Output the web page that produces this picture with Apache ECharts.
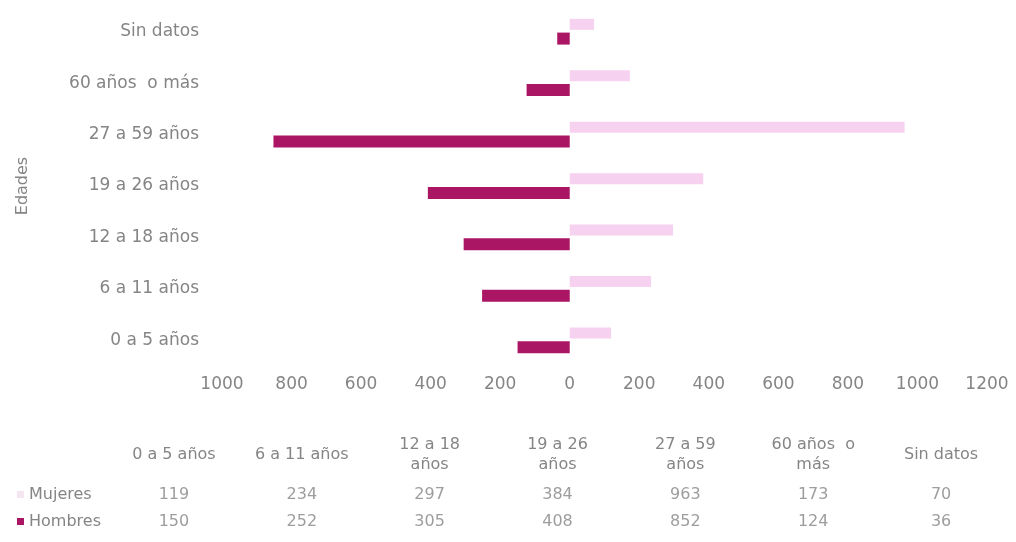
<!DOCTYPE html>
<html>
<head>
<meta charset="utf-8">
<script src="https://cdn.jsdelivr.net/npm/echarts@6/dist/echarts.min.js"></script>
<style>html,body{margin:0;padding:0;background:#fff}#c{width:1016px;height:542px}</style>
</head>
<body>
<div id="c"></div>
<script>
const categories = ['0 a 5 años', '6 a 11 años', '12 a 18 años', '19 a 26 años', '27 a 59 años', '60 años  o más', 'Sin datos'];
const tableHeaders = ['0 a 5 años', '6 a 11 años', '12 a 18\naños', '19 a 26\naños', '27 a 59\naños', '60 años  o\nmás', 'Sin datos'];
const mujeres = [119, 234, 297, 384, 963, 173, 70];
const hombres = [150, 252, 305, 408, 852, 124, 36];
const seriesNames = ['Hombres', 'Mujeres'];
const xTicks = { min: -1000, max: 1200, interval: 200 };

const colH = '#ab1664';
const colM = '#f6d2f0';
const txt = '#858585';
const FONT = 'DejaVu Sans';

const chart = echarts.init(document.getElementById('c'), null, { renderer: 'canvas' });
chart.setOption({
  backgroundColor: '#ffffff',
  textStyle: { fontFamily: FONT },
  animation: false,
  grid: [
    { left: 222, right: 29, top: 6, height: 360 },
    { left: 110, right: 11, top: 481, height: 54 }
  ],
  xAxis: [
    {
      gridIndex: 0, type: 'value', min: xTicks.min, max: xTicks.max, interval: xTicks.interval,
      axisLine: { show: false }, axisTick: { show: false }, splitLine: { show: false },
      axisLabel: { color: txt, fontSize: 17, fontFamily: FONT, margin: 10, formatter: v => String(Math.abs(v)) }
    },
    {
      gridIndex: 1, type: 'category', position: 'top', data: categories,
      axisLine: { show: false }, axisTick: { show: false }, splitLine: { show: false },
      axisLabel: { interval: 0, color: txt, fontSize: 16, fontFamily: FONT, margin: 26, lineHeight: 20,
        verticalAlign: 'middle', formatter: (v, i) => tableHeaders[i] }
    }
  ],
  yAxis: [
    {
      gridIndex: 0, type: 'category', data: categories,
      name: 'Edades', nameLocation: 'middle', nameRotate: 90, nameGap: 191,
      nameTextStyle: { color: txt, fontSize: 16, fontFamily: FONT },
      axisLine: { show: false }, axisTick: { show: false }, splitLine: { show: false },
      axisLabel: { color: txt, fontSize: 17, fontFamily: FONT, margin: 23 }
    },
    {
      gridIndex: 1, type: 'category', data: seriesNames,
      axisLine: { show: false }, axisTick: { show: false }, splitLine: { show: false },
      axisLabel: {
        align: 'left', margin: 93, color: txt, fontSize: 16, fontFamily: FONT,
        formatter: v => `{${v === 'Hombres' ? 'h' : 'm'}|}{t|${v}}`,
        rich: {
          h: { width: 7, height: 7, backgroundColor: colH },
          m: { width: 7, height: 7, backgroundColor: '#f3e6f0' },
          t: { color: txt, fontSize: 16, fontFamily: FONT, padding: [0, 0, 0, 5] }
        }
      }
    }
  ],
  series: [
    {
      name: 'Mujeres', type: 'bar', xAxisIndex: 0, yAxisIndex: 0,
      data: mujeres, barWidth: 11, barGap: '25%', itemStyle: { color: colM }
    },
    {
      name: 'Hombres', type: 'bar', xAxisIndex: 0, yAxisIndex: 0,
      data: hombres.map(v => -v), barWidth: 12, barGap: '25%', itemStyle: { color: colH }
    },
    {
      name: 'tablaM', type: 'scatter', xAxisIndex: 1, yAxisIndex: 1, symbolSize: 0,
      data: mujeres.map((v, i) => [categories[i], 'Mujeres', v]),
      label: { show: true, position: 'inside', color: txt, fontSize: 16, fontFamily: FONT, formatter: p => String(p.value[2]) }
    },
    {
      name: 'tablaH', type: 'scatter', xAxisIndex: 1, yAxisIndex: 1, symbolSize: 0,
      data: hombres.map((v, i) => [categories[i], 'Hombres', v]),
      label: { show: true, position: 'inside', color: txt, fontSize: 16, fontFamily: FONT, formatter: p => String(p.value[2]) }
    }
  ]
});
</script>
</body>
</html>
